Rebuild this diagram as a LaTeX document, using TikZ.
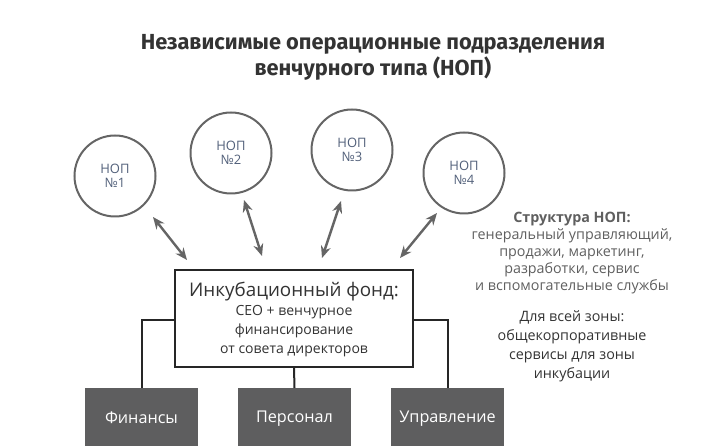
\documentclass[tikz,border=0pt]{standalone}
\usepackage{fontspec}
\setmainfont{Open Sans}
\newfontfamily\titlefont{Fira Sans}
\usetikzlibrary{arrows.meta}
\definecolor{arrgray}{HTML}{656565}
\definecolor{boxgray}{HTML}{5E5E5F}
\definecolor{lblue}{HTML}{52607A}
\definecolor{txtgray}{HTML}{5F5F5F}
\definecolor{txtdark}{HTML}{333333}
\tikzset{
  unit/.style={x=1pt,y=-1pt},
  nop/.style={circle,draw=arrgray,line width=2pt,minimum size=81pt,inner sep=0pt,
    text=lblue,font=\fontsize{13}{14.5}\selectfont,align=center},
  biarrow/.style={arrgray,line width=2.4pt,{Stealth[length=12pt,width=10pt]}-{Stealth[length=12pt,width=10pt]}},
  dept/.style={fill=boxgray,text=white,minimum width=113pt,minimum height=60pt,inner sep=0pt,
    font=\fontsize{16.2}{18}\selectfont,anchor=north},
  link/.style={draw=black!85,line width=2pt},
}
\begin{document}
\begin{tikzpicture}[unit]
\useasboundingbox (0,0) rectangle (710,446);
\node[font=\titlefont\bfseries\fontsize{21.8}{26}\selectfont,text=txtdark,align=center] (title) at (373,57)
  {Независимые операционные подразделения\\венчурного типа (НОП)};
\node[nop] (c1) at (115,176) {НОП\\№1};
\node[nop] (c2) at (231,153) {НОП\\№2};
\node[nop] (c3) at (352,150) {НОП\\№3};
\node[nop] (c4) at (464,173) {НОП\\№4};
\node[draw=black!85,line width=2pt,minimum width=238pt,minimum height=97pt,inner sep=0pt] (fund) at (294,318.5) {};
\node[align=center,text=txtdark,font=\fontsize{18.8}{22}\selectfont] (fundtxt) at (294,292)
  {Инкубационный фонд:};
\node[align=center,text=txtdark,font=\fontsize{14}{19}\selectfont,anchor=north] (fundsub) at (294,302)
  {CEO + венчурное\\финансирование\\от совета директоров};
\coordinate (a1s) at (153,217); \coordinate (a1e) at (187,260);
\coordinate (a2s) at (244,200); \coordinate (a2e) at (262,256);
\coordinate (a3s) at (341,201); \coordinate (a3e) at (322,258);
\coordinate (a4s) at (437,213); \coordinate (a4e) at (400,258);
\draw[biarrow] (a1s) -- (a1e);
\draw[biarrow] (a2s) -- (a2e);
\draw[biarrow] (a3s) -- (a3e);
\draw[biarrow] (a4s) -- (a4e);
\node[dept] (fin) at (141.5,388) {Финансы};
\node[dept] (pers) at (294.5,388) {Персонал};
\node[dept] (upr) at (447.5,388) {Управление};
\draw[link] (fund.west |- 0,320) -| (fin.north);
\draw[link] (fund.south) -- (pers.north);
\draw[link] (fund.east |- 0,320) -| (upr.north);
\node[align=center,text=txtgray,anchor=north,font=\fontsize{14.3}{17}\selectfont] (struct) at (572,209)
  {\textbf{Структура НОП:}\\генеральный управляющий,\\продажи, маркетинг,\\разработки, сервис\\и вспомогательные службы};
\node[align=center,text=txtdark,anchor=north,font=\fontsize{14.3}{19}\selectfont] (zone) at (572,307)
  {Для всей зоны:\\общекорпоративные\\сервисы для зоны\\инкубации};
\end{tikzpicture}
\end{document}
